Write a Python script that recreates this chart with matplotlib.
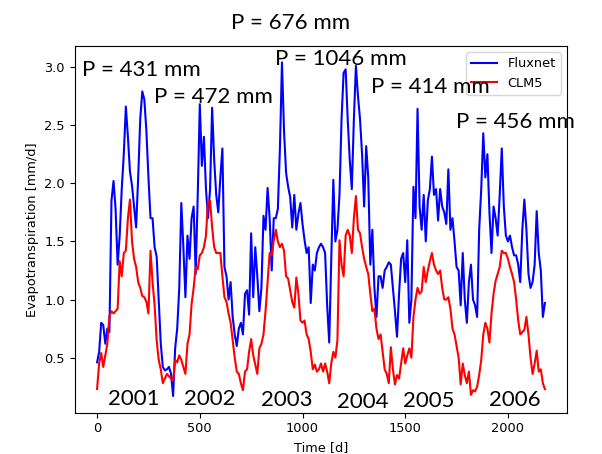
import numpy as np
import matplotlib
matplotlib.use("Agg")
import matplotlib.pyplot as plt

# time axis: one value every 10 days
days = np.arange(0, 2181, 10)

fluxnet = [
    0.46, 0.55, 0.80, 0.78, 0.62, 0.75, 0.72, 1.85, 2.02, 1.78,
    1.30, 1.55, 1.95, 2.25, 2.66, 2.40, 2.10, 1.98, 1.80, 1.62,
    2.05, 2.55, 2.79, 2.72, 2.45, 2.05, 1.70, 1.70, 1.45, 1.37,
    1.00, 0.62, 0.42, 0.39, 0.40, 0.42, 0.36, 0.17, 0.58, 0.75,
    1.10, 1.83, 1.45, 1.02, 1.55, 1.35, 1.70, 1.80, 1.22, 1.90,
    2.68, 2.15, 2.40, 1.95, 1.70, 1.95, 2.65, 2.20, 1.90, 1.75,
    2.05, 2.30, 1.28, 1.20, 1.00, 1.15, 0.85, 0.70, 0.60, 0.75,
    0.80, 0.70, 1.05, 1.08, 0.87, 1.57, 1.02, 1.45, 1.20, 0.90,
    1.10, 1.72, 1.60, 1.96, 1.70, 1.25, 1.70, 1.70, 1.78, 2.30,
    3.04, 2.45, 2.09, 1.97, 1.88, 1.62, 1.90, 1.60, 1.74, 1.83,
    1.65, 1.51, 1.40, 1.45, 0.97, 1.30, 1.25, 1.40, 1.45, 1.48,
    1.45, 1.40, 0.95, 0.63, 1.35, 2.03, 1.50, 1.60, 1.90, 2.55,
    2.95, 2.98, 2.55, 2.20, 1.95, 2.55, 3.01, 2.75, 2.55, 2.25,
    1.80, 2.32, 2.05, 1.30, 1.60, 1.10, 0.85, 1.20, 1.20, 1.10,
    1.25, 1.28, 1.32, 1.30, 1.10, 0.90, 0.68, 1.05, 1.35, 1.40,
    1.15, 1.51, 0.80, 1.00, 1.97, 1.70, 2.64, 1.80, 1.60, 1.90,
    1.50, 1.85, 1.95, 2.23, 1.90, 1.95, 1.68, 1.95, 1.80, 1.75,
    1.65, 2.12, 1.60, 1.70, 1.50, 1.28, 1.25, 0.95, 1.40, 1.00,
    0.80, 1.15, 1.30, 1.00, 0.95, 0.85, 1.60, 1.95, 2.43, 2.05,
    2.25, 1.75, 1.40, 1.80, 1.70, 1.55, 1.90, 2.30, 1.80, 1.55,
    1.50, 1.55, 1.45, 1.38, 1.38, 1.30, 1.15, 1.60, 1.86, 1.60,
    1.22, 1.10, 1.15, 1.30, 1.76, 1.40, 1.25, 0.85, 0.97,
]

clm5 = [
    0.23, 0.45, 0.54, 0.42, 0.52, 0.62, 0.86, 0.90, 0.88, 0.90,
    0.92, 1.33, 1.20, 1.40, 1.42, 1.70, 1.86, 1.50, 1.35, 1.28,
    1.15, 1.10, 1.03, 1.02, 0.98, 0.88, 1.42, 1.15, 0.95, 0.65,
    0.48, 0.40, 0.28, 0.32, 0.36, 0.34, 0.32, 0.30, 0.48, 0.46,
    0.52, 0.48, 0.42, 0.36, 0.62, 0.70, 0.96, 1.10, 1.28, 1.26,
    1.38, 1.40, 1.45, 1.55, 1.85, 1.85, 1.62, 1.45, 1.40, 1.40,
    1.40, 1.20, 1.02, 0.98, 0.88, 0.80, 0.65, 0.50, 0.38, 0.36,
    0.28, 0.22, 0.38, 0.40, 0.55, 0.66, 0.52, 0.44, 0.36, 0.58,
    0.62, 0.70, 0.90, 1.15, 1.40, 1.38, 1.51, 1.60, 1.50, 1.45,
    1.48, 1.42, 1.20, 1.18, 1.08, 0.98, 0.93, 1.19, 1.05, 0.82,
    0.80, 0.82, 0.70, 0.66, 0.55, 0.40, 0.44, 0.38, 0.40, 0.45,
    0.38, 0.45, 0.38, 0.28, 0.45, 0.55, 0.50, 0.65, 1.51, 1.30,
    1.20, 1.55, 1.60, 1.55, 1.40, 1.70, 1.89, 1.60, 1.57, 1.45,
    1.35, 1.28, 1.22, 1.05, 0.90, 0.92, 0.75, 0.66, 0.70, 0.55,
    0.40, 0.36, 0.28, 0.59, 0.40, 0.27, 0.35, 0.32, 0.45, 0.58,
    0.45, 0.52, 0.58, 0.50, 0.85, 1.00, 1.10, 1.05, 1.07, 1.28,
    1.15, 1.25, 1.33, 1.40, 1.30, 1.25, 1.22, 1.25, 1.10, 1.00,
    1.00, 1.02, 0.92, 0.75, 0.70, 0.60, 0.50, 0.27, 0.45, 0.35,
    0.28, 0.38, 0.18, 0.22, 0.21, 0.25, 0.35, 0.48, 0.70, 0.80,
    0.75, 0.63, 0.88, 1.05, 1.16, 1.22, 1.28, 1.42, 1.40, 1.40,
    1.35, 1.28, 1.22, 1.15, 1.00, 0.82, 0.70, 0.72, 0.74, 0.85,
    0.70, 0.50, 0.36, 0.45, 0.56, 0.38, 0.40, 0.28, 0.23,
]

years = ["2001", "2002", "2003", "2004", "2005", "2006"]
precip = ["P = 676 mm", "P = 431 mm", "P = 472 mm", "P = 1046 mm", "P = 414 mm", "P = 456 mm"]

W, H = 602, 454
fig = plt.figure(figsize=(W / 100, H / 100), dpi=100)
ax = fig.add_axes([74.7 / W, 1 - 412.7 / H, 492.6 / W, 367.0 / H])

ax.plot(days, fluxnet, color="blue", lw=1.5, label="Fluxnet")
ax.plot(days, clm5, color="red", lw=1.5, label="CLM5")

ax.set_xlabel("Time [d]", fontsize=9.3)
ax.set_ylabel("Evapotranspiration [mm/d]", fontsize=9.3)
ax.tick_params(labelsize=9.3)
ax.set_xticks([0, 500, 1000, 1500, 2000])
ax.legend(loc="upper right", fontsize=9.3)

# text added on top of the plot (pixel positions: left, baseline)
p_pos = [(231, 29), (81.7, 76), (154.3, 103.3), (275, 65), (370.7, 93.3), (455.7, 128.3)]
y_pos = [(108.3, 405), (184.3, 405), (261, 406), (336.8, 408.5), (403.3, 406.7), (489.3, 405.5)]
big = dict(family=["Lato", "DejaVu Sans"], fontsize=16, color="black", va="baseline", ha="left")
for s, (x, y) in zip(precip, p_pos):
    fig.text(x / W, 1 - y / H, s, **big)
for s, (x, y) in zip(years, y_pos):
    fig.text(x / W, 1 - y / H, s, **big)

fig.savefig("out.png", dpi=100)
